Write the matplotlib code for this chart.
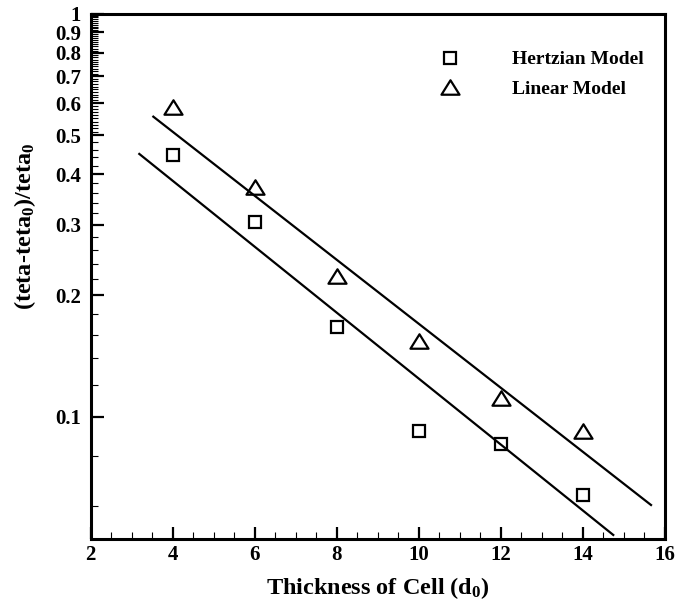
import numpy as np
import matplotlib
matplotlib.use("Agg")
import matplotlib.pyplot as plt
from matplotlib.path import Path
from matplotlib.ticker import FixedLocator, NullFormatter, FixedFormatter

# ---- data ----
thickness = [4, 6, 8, 10, 12, 14]
hertzian = [0.446, 0.305, 0.1666, 0.0922, 0.0856, 0.064]
linear = [0.587, 0.371, 0.223, 0.154, 0.1114, 0.0923]

# fitted straight lines (on log scale), endpoints
hertzian_fit_x = [3.185, 14.745]
hertzian_fit_y = [0.449, 0.0509]
linear_fit_x = [3.527, 15.666]
linear_fit_y = [0.5556, 0.0604]

x_ticks = [2, 4, 6, 8, 10, 12, 14, 16]
y_major = [0.1, 0.2, 0.3, 0.4, 0.5, 0.6, 0.7, 0.8, 0.9, 1.0]
y_major_labels = ["0.1", "0.2", "0.3", "0.4", "0.5", "0.6", "0.7", "0.8", "0.9", "1"]

plt.rcParams['font.family'] = ['Liberation Serif', 'DejaVu Serif']
plt.rcParams['font.weight'] = 'bold'
plt.rcParams['mathtext.fontset'] = 'custom'
plt.rcParams['mathtext.rm'] = 'Liberation Serif:bold'
plt.rcParams['mathtext.bf'] = 'Liberation Serif:bold'
plt.rcParams['mathtext.it'] = 'Liberation Serif:bold'

fig = plt.figure(figsize=(6.78, 6.08), dpi=100)
ax = fig.add_axes([0.1338, 0.1127, 0.9804 - 0.1338, 0.9773 - 0.1127])

tri = Path([(-1.0, -0.8), (1.0, -0.8), (0.0, 0.8), (-1.0, -0.8)],
           [Path.MOVETO, Path.LINETO, Path.LINETO, Path.CLOSEPOLY])

ax.plot(hertzian_fit_x, hertzian_fit_y, color='black', lw=1.6)
ax.plot(linear_fit_x, linear_fit_y, color='black', lw=1.6)
ax.plot(thickness, hertzian, linestyle='none', marker='s', markersize=8.8,
        markerfacecolor='none', markeredgecolor='black', markeredgewidth=1.6,
        label='Hertzian Model')
ax.plot(thickness, linear, linestyle='none', marker=tri, markersize=13,
        markerfacecolor='none', markeredgecolor='black', markeredgewidth=1.6,
        label='Linear Model')

ax.set_yscale('log')
ax.set_xlim(2, 16)
ax.set_ylim(0.0496, 1.0)

ax.xaxis.set_major_locator(FixedLocator(x_ticks))
ax.xaxis.set_minor_locator(FixedLocator(np.arange(2, 16.01, 0.5)))
ax.yaxis.set_major_locator(FixedLocator(y_major))
ax.yaxis.set_major_formatter(FixedFormatter(y_major_labels))
minors = [0.06, 0.08] + list(np.arange(0.12, 0.49, 0.02)) + list(np.arange(0.51, 0.995, 0.01))
minors = [m for m in minors if all(abs(m - M) > 1e-6 for M in y_major)]
ax.yaxis.set_minor_locator(FixedLocator(minors))
ax.yaxis.set_minor_formatter(NullFormatter())

ax.tick_params(which='both', direction='in', top=False, right=False)
ax.tick_params(which='major', length=9, width=1.6, labelsize=15)
ax.tick_params(axis='x', which='major', pad=4)
ax.tick_params(axis='y', which='major', pad=7)
ax.tick_params(which='minor', length=5, width=0.8)
for lab in ax.get_xticklabels() + ax.get_yticklabels():
    lab.set_fontweight('bold')

for s in ax.spines.values():
    s.set_linewidth(2.2)

ax.set_xlabel('Thickness of Cell (d$_{\\mathrm{0}}$)', fontsize=17.5, fontweight='bold', labelpad=7)
ax.set_ylabel('(teta-teta$_{\\mathrm{0}}$)/teta$_{\\mathrm{0}}$', fontsize=17.5, fontweight='bold')
ax.yaxis.set_label_coords(-0.092, 0.595)

leg = ax.legend(loc='upper left', bbox_to_anchor=(0.592, 0.948), frameon=False,
                numpoints=1, handlelength=1.0, handletextpad=2.7, borderpad=0,
                labelspacing=0.6, prop={'size': 14, 'weight': 'bold'})

fig.savefig('out.png', dpi=100)
